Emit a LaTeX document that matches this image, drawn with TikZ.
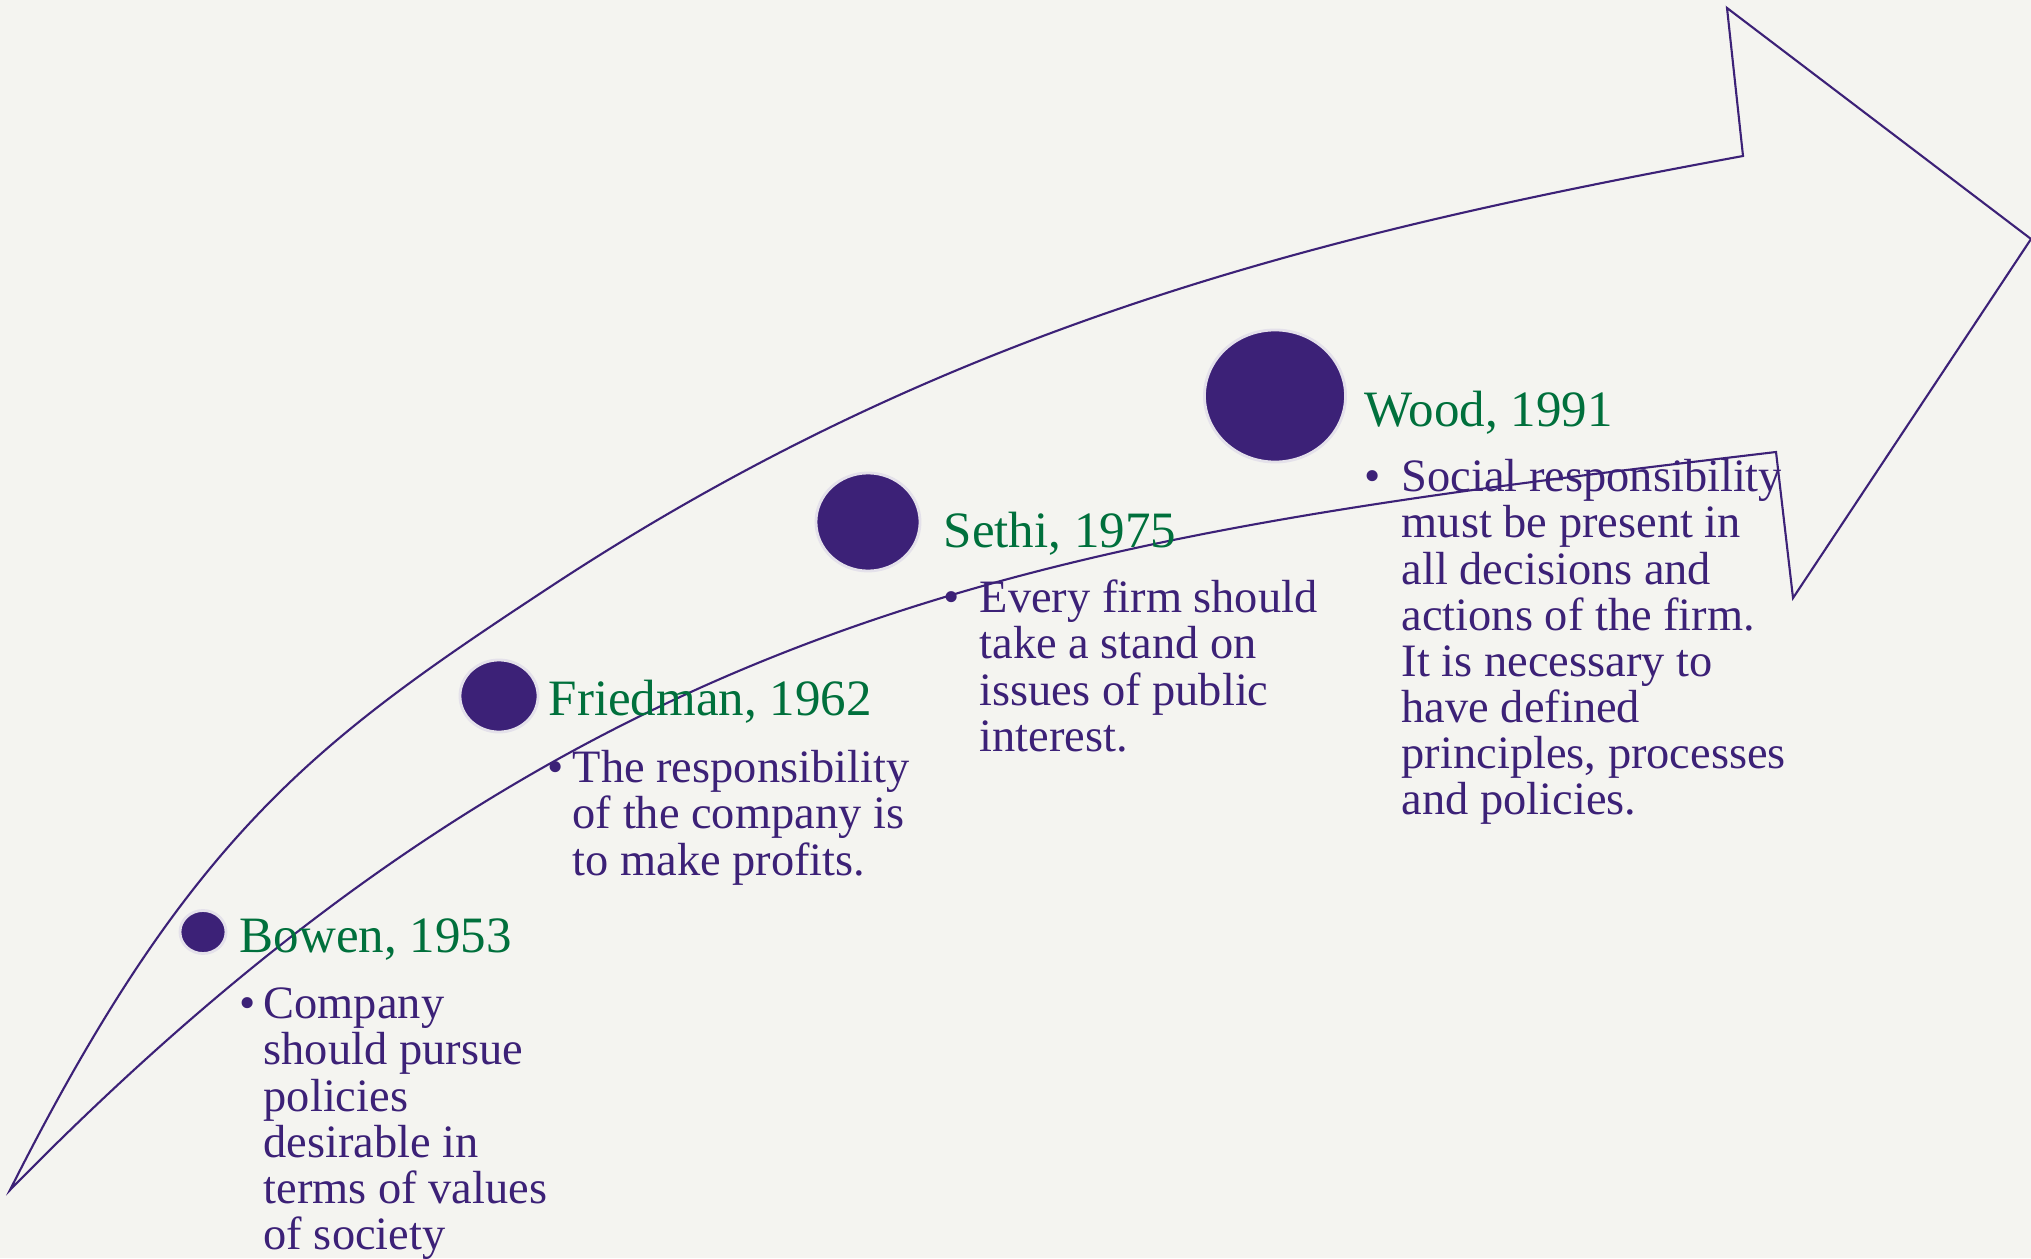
\documentclass[tikz,border=0pt]{standalone}
\usepackage{fontspec}
\setmainfont{Liberation Serif}
\usetikzlibrary{positioning}
\usetikzlibrary{shapes.geometric}
\definecolor{bgpaper}{HTML}{F4F4F0}
\definecolor{timepurple}{HTML}{3C2177}
\definecolor{timegreen}{HTML}{00703C}
\definecolor{ringgray}{HTML}{E4E1EA}
\newcommand{\itembul}[1]{\llap{\textbullet\hspace{#1}}\rule{0pt}{10pt}}

\begin{document}
\begin{tikzpicture}[x=0.01cm, y=-0.01cm,
	arrow line/.style={draw=timepurple, line width=0.6pt, line join=miter},
	dot/.style={ellipse, fill=timepurple, draw=ringgray, line width=0.8pt, inner sep=0pt},
	head/.style={anchor=base west, inner sep=0pt, text=timegreen, font=\fontsize{14.5}{17}\selectfont},
	body/.style={inner sep=0pt, align=left, text=timepurple, font=\fontsize{13.2}{13.1}\selectfont},
]
\fill[bgpaper] (0,0) rectangle (2031,1258);
\useasboundingbox (0,0) rectangle (2031,1258);
% the big arrow
\coordinate (tail) at (10,1190);
\coordinate (bend) at (550,587);
\coordinate (upper) at (1743,156);
\coordinate (barbtop) at (1727,8);
\coordinate (tip) at (2031,239);
\coordinate (barbbot) at (1793,598);
\coordinate (lower) at (1776,452);
\draw [arrow line] (tail) .. controls (190,833) and (316,741) .. (bend)
	.. controls (951,323) and (1330,232) .. (upper) -- (barbtop) -- (tip)
	-- (barbbot) -- (lower) .. controls (1061,537) and (591,597) .. cycle;
% dots
\node [dot, minimum width=0.46cm, minimum height=0.43cm] (bowen) at (203,932) {};
\node [dot, minimum width=0.78cm, minimum height=0.72cm] (friedman) at (499,696) {};
\node [dot, minimum width=1.04cm, minimum height=0.98cm] (sethi) at (868,522) {};
\node [dot, minimum width=1.41cm, minimum height=1.32cm] (wood) at (1275,396) {};
% names
\node [head] (bowenhead) at (239,952) {Bowen, 1953};
\node [head] (friedmanhead) at (548,715) {Friedman, 1962};
\node [head] (sethihead) at (943,547) {Sethi, 1975};
\node [head] (woodhead) at (1364,426) {Wood, 1991};
% texts
\node [body, below right=0.31cm and 0.24cm of bowenhead.base west] (bowentext)
	{\itembul{2.3pt}Company\\should pursue\\policies\\desirable in\\terms of values\\of society};
\node [body, below right=0.32cm and 0.24cm of friedmanhead.base west] (friedmantext)
	{\itembul{2.5pt}The responsibility\\of the company is\\to make profits.};
\node [body, below right=0.30cm and 0.36cm of sethihead.base west] (sethitext)
	{\itembul{5.6pt}Every firm should\\take a stand on\\issues of public\\interest.};
\node [body, below right=0.30cm and 0.37cm of woodhead.base west] (woodtext)
	{\itembul{5.9pt}Social responsibility\\must be present in\\all decisions and\\actions of the firm.\\It is necessary to\\have defined\\principles, processes\\and policies.};
\end{tikzpicture}
\end{document}
